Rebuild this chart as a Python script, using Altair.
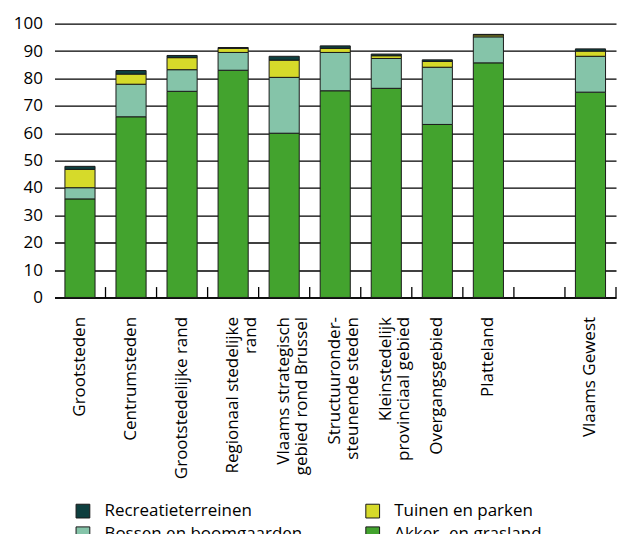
import altair as alt
import pandas as pd

categories = [
    "Grootsteden",
    "Centrumsteden",
    "Grootstedelijke rand",
    "Regionaal stedelijke|rand",
    "Vlaams strategisch|gebied rond Brussel",
    "Structuuronder-|steunende steden",
    "Kleinstedelijk|provinciaal gebied",
    "Overgangsgebied",
    "Platteland",
    " ",
    "Vlaams Gewest",
]
bar_categories = [c for c in categories if c.strip()]

akker = [36.0, 66.0, 75.3, 83.0, 60.0, 75.5, 76.4, 63.2, 85.7, 75.0]
bossen = [4.1, 11.9, 7.9, 6.5, 20.4, 14.0, 10.9, 20.9, 9.5, 13.1]
tuinen = [6.7, 3.7, 4.4, 1.5, 6.3, 1.5, 1.0, 2.1, 0.7, 1.9]
recreatie = [1.1, 1.3, 0.8, 0.3, 1.4, 0.9, 0.6, 0.6, 0.2, 0.8]

series_names = ["Recreatieterreinen", "Bossen en boomgaarden", "Tuinen en parken", "Akker- en grasland"]
series_colors = ["#0E3F3F", "#85C4A9", "#D6DA2A", "#43A32E"]
stack_order = {"Akker- en grasland": 0, "Bossen en boomgaarden": 1, "Tuinen en parken": 2, "Recreatieterreinen": 3}
series_values = {
    "Akker- en grasland": akker,
    "Bossen en boomgaarden": bossen,
    "Tuinen en parken": tuinen,
    "Recreatieterreinen": recreatie,
}

rows = []
for name, vals in series_values.items():
    for cat, v in zip(bar_categories, vals):
        rows.append({"cat": cat, "series": name, "value": v, "ord": stack_order[name]})
df = pd.DataFrame(rows)
ticks_df = pd.DataFrame({"cat": categories})

FONT = "Open Sans"

x_scale = alt.Scale(domain=categories, paddingInner=0, paddingOuter=0)
x_axis = alt.Axis(
    title=None,
    labelAngle=270,
    labelAlign="right",
    labelBaseline="middle",
    labelExpr="split(datum.label, '|')",
    labelLineHeight=18,
    labelPadding=19,
    labelFontSize=17,
    labelColor="#000000",
    labelFont=FONT,
    ticks=False,
    grid=False,
    domainColor="#000000",
    domainWidth=1.5,
    labelLimit=400,
)
y_scale = alt.Scale(domain=[0, 100], nice=False)
y_axis = alt.Axis(
    title=None,
    values=list(range(0, 101, 10)),
    grid=True,
    gridColor="#000000",
    gridWidth=1.3,
    gridOpacity=1,
    domain=False,
    ticks=False,
    labelPadding=12,
    labelFontSize=17,
    labelColor="#000000",
    labelFont=FONT,
    labelOverlap=False,
)

bars = alt.Chart(df).mark_bar(
    width=alt.RelativeBandSize(0.59), stroke="#1a1a1a", strokeWidth=1
).encode(
    x=alt.X("cat:N", scale=x_scale, axis=x_axis),
    y=alt.Y("value:Q", stack="zero", scale=y_scale, axis=y_axis),
    color=alt.Color(
        "series:N",
        scale=alt.Scale(domain=series_names, range=series_colors),
        legend=alt.Legend(
            title=None,
            orient="none",
            legendX=20,
            legendY=479,
            columns=2,
            columnPadding=60,
            rowPadding=4,
            symbolType="square",
            symbolSize=190,
            symbolStrokeColor="#1a1a1a",
            symbolStrokeWidth=1,
            symbolOpacity=1,
            labelFontSize=17,
            labelFont=FONT,
            labelColor="#000000",
            labelOffset=13,
            padding=0,
            labelLimit=400,
        ),
    ),
    order=alt.Order("ord:Q", sort="ascending"),
)

tick_rules = alt.Chart(ticks_df).mark_rule(color="#000000", strokeWidth=1.3).encode(
    x=alt.X("cat:N", scale=x_scale, axis=x_axis, bandPosition=1),
    y=alt.Y(datum=0, scale=y_scale, axis=y_axis),
    y2=alt.Y2(datum=3.8),
)

chart = alt.layer(bars, tick_rules).properties(
    width=562,
    height=274,
    autosize=alt.AutoSizeParams(type="none"),
    padding={"left": 46.5, "top": 15.5, "right": 2, "bottom": 236},
).configure_view(stroke=None).configure_axisY(
    gridColor="#000000", gridOpacity=1, gridWidth=1.3
)

chart.save("out.html", embed_options={"renderer": "svg", "actions": False})
